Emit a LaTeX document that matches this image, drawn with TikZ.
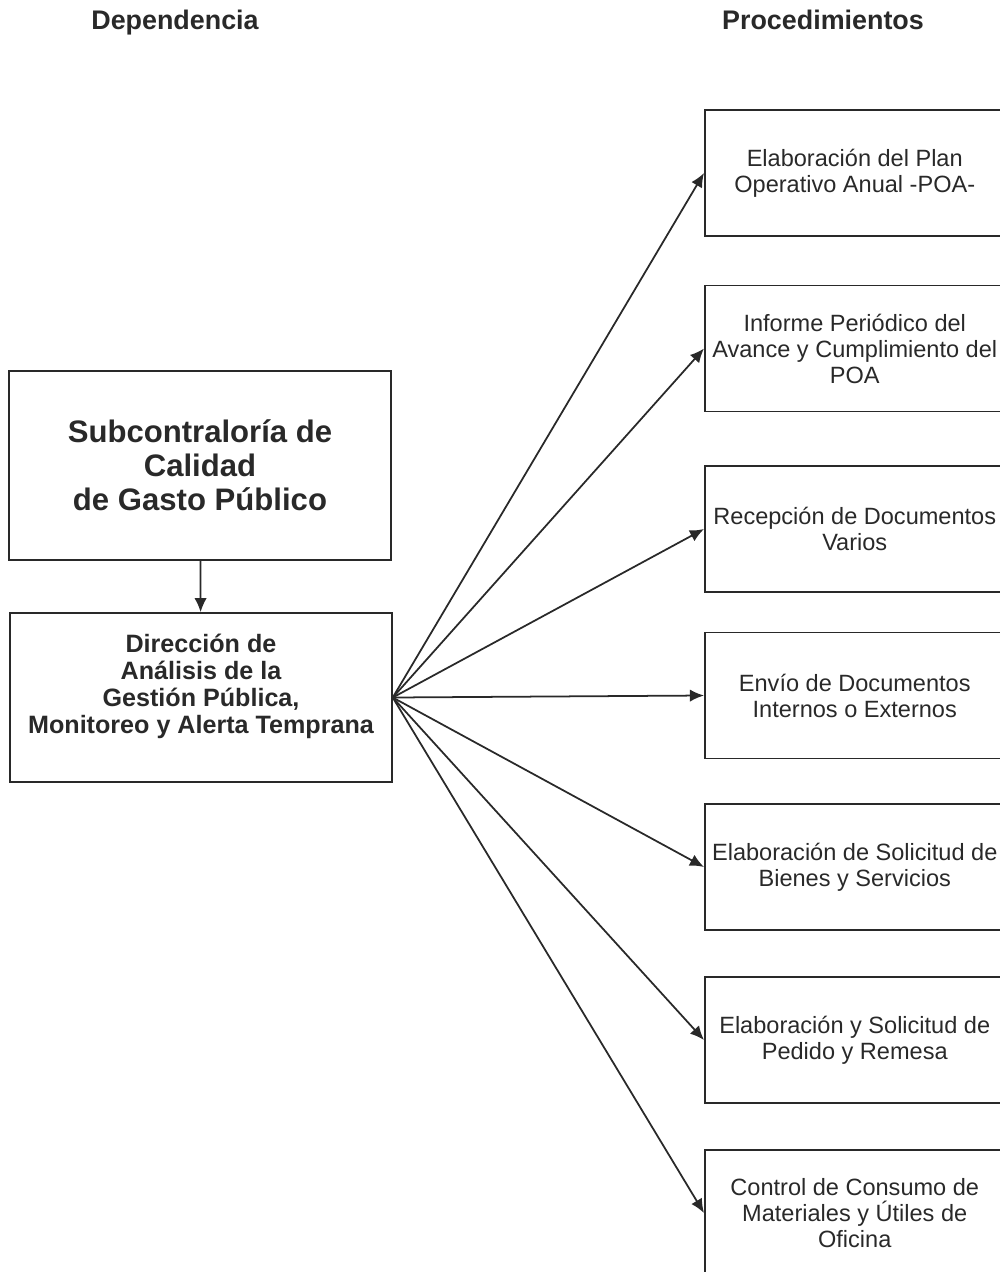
\documentclass[tikz,border=0pt]{standalone}
\usepackage{fontspec}
\setmainfont{Liberation Sans}
\usepackage{tikz}
\usetikzlibrary{arrows.meta}
\definecolor{tinta}{rgb}{0.16,0.16,0.16}
\tikzstyle{every node}=[text=tinta]
\tikzstyle{dep}=[draw=tinta, line width=0.9pt, minimum width=7.64cm, align=center]
\tikzstyle{proc}=[draw=tinta, line width=0.9pt, minimum width=6cm, minimum height=2.52cm, anchor=west, align=center, font=\fontsize{13.4}{14.8}\selectfont]
\tikzstyle{titulo}=[anchor=base, font=\bfseries\fontsize{15.3}{18}\selectfont]
\tikzstyle{flecha}=[draw=tinta, line width=1pt, -{Latex[length=8pt,width=7pt]}]

\begin{document}
\begin{tikzpicture}[x=0.02cm, y=-0.02cm]
\useasboundingbox (0,0) rectangle (1000,1272);
\clip (0,0) rectangle (1000,1272);
\node[titulo] (hdep) at (175,29) {Dependencia};
\node[titulo] (hproc) at (823,29) {Procedimientos};
\node[dep, minimum height=3.78cm, font=\bfseries\fontsize{17.7}{19.3}\selectfont] (sub) at (200,465.5) {Subcontraloría de\\Calidad\\de Gasto Público};
\node[dep, minimum height=3.38cm, font=\bfseries\fontsize{14.3}{15.3}\selectfont] (dir) at (201,697.5) {Dirección de\\Análisis de la\\Gestión Pública,\\Monitoreo y Alerta Temprana\\ \mbox{}};
\node[proc] (p1) at (704,173) {Elaboración del Plan\\Operativo Anual -POA-};
\node[proc] (p2) at (704,348.5) {Informe Periódico del\\Avance y Cumplimiento del\\POA};
\node[proc] (p3) at (704,529) {Recepción de Documentos\\Varios};
\node[proc] (p4) at (704,695.5) {Envío de Documentos\\Internos o Externos};
\node[proc] (p5) at (704,867) {Elaboración de Solicitud de\\Bienes y Servicios};
\node[proc] (p6) at (704,1040) {Elaboración y Solicitud de\\Pedido y Remesa};
\node[proc] (p7) at (704,1213) {Control de Consumo de\\Materiales y Útiles de\\Oficina};
\draw[flecha] (sub) -- (dir);
\foreach \i in {1,...,7}
  \draw[flecha] (dir.east) -- (p\i.west);
\end{tikzpicture}
\end{document}
